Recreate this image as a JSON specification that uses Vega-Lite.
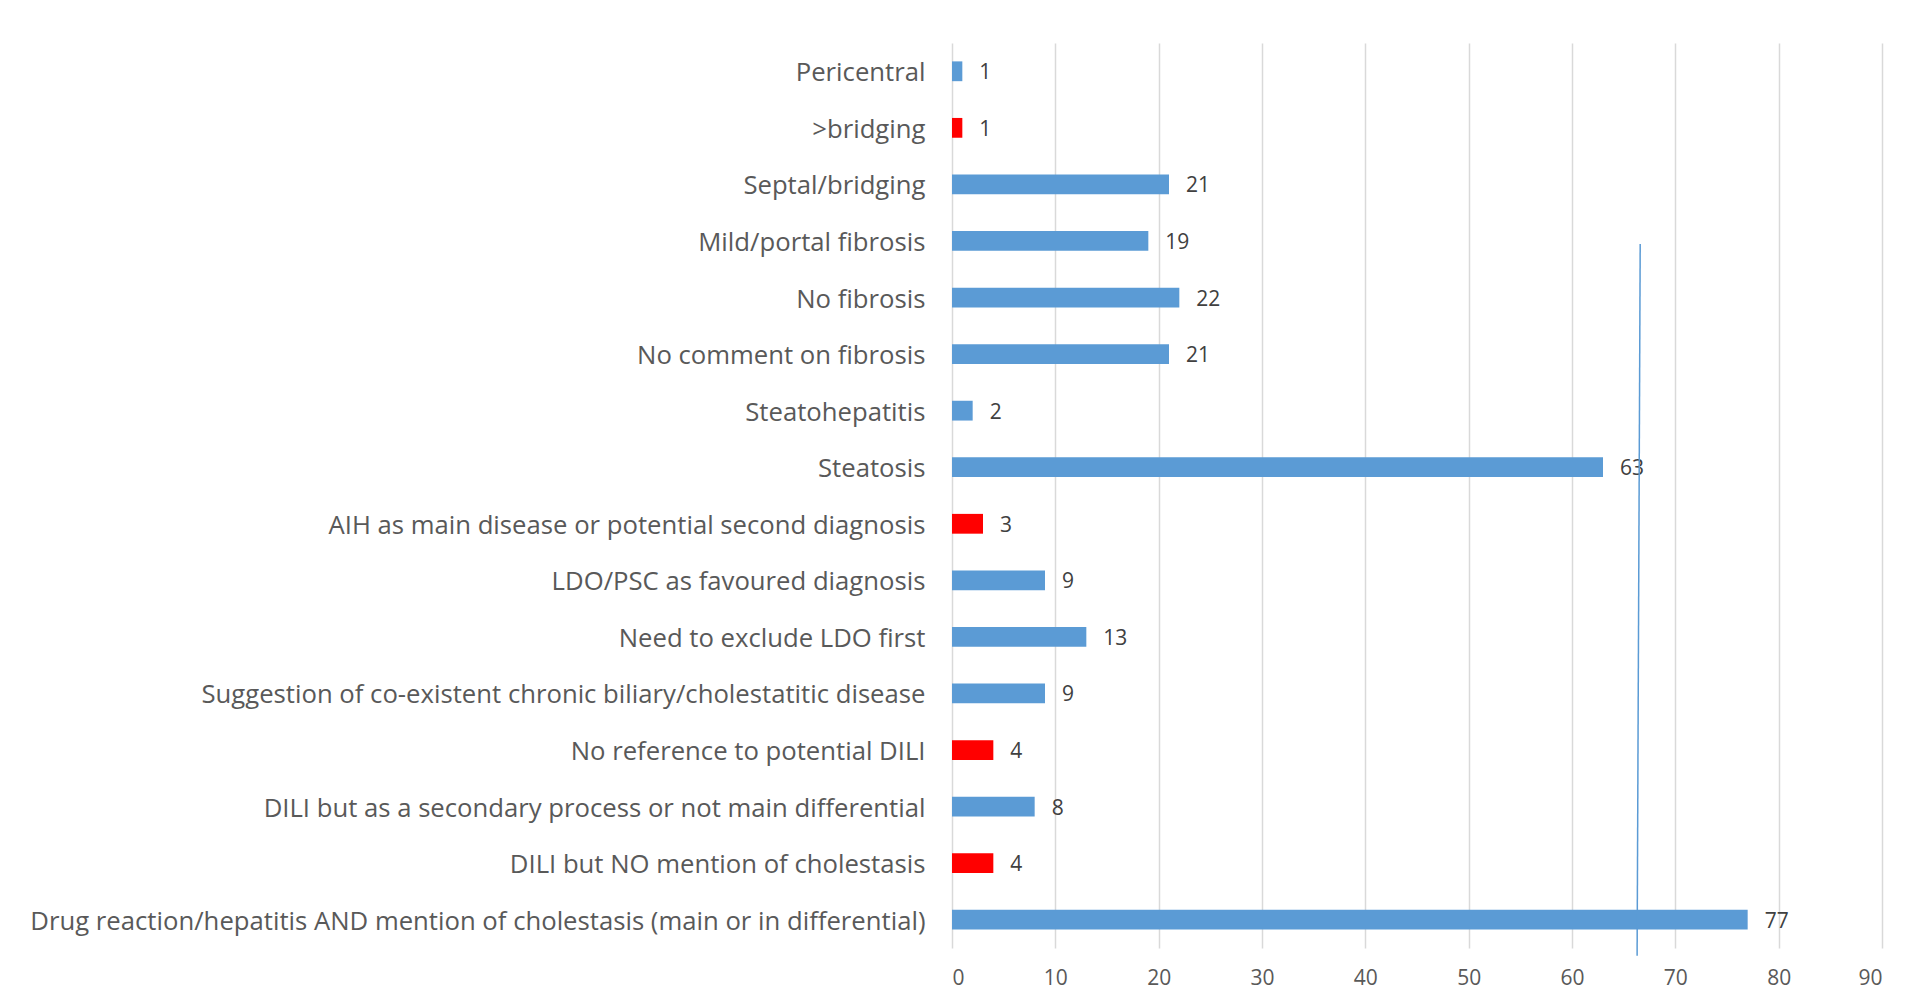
{
  "$schema": "https://vega.github.io/schema/vega-lite/v6.json",
  "width": 930,
  "height": 905,
  "autosize": {"type": "none"},
  "padding": {"left": 952, "top": 43, "right": 23, "bottom": 56},
  "background": "white",
  "config": {
    "view": {"stroke": null},
    "font": "Open Sans"
  },
  "datasets": {
    "bars": [
      {"category": "Pericentral", "count": 1, "flag": "normal"},
      {"category": ">bridging", "count": 1, "flag": "highlight"},
      {"category": "Septal/bridging", "count": 21, "flag": "normal"},
      {"category": "Mild/portal fibrosis", "count": 19, "flag": "normal"},
      {"category": "No fibrosis", "count": 22, "flag": "normal"},
      {"category": "No comment on fibrosis", "count": 21, "flag": "normal"},
      {"category": "Steatohepatitis", "count": 2, "flag": "normal"},
      {"category": "Steatosis", "count": 63, "flag": "normal"},
      {"category": "AIH as main disease or potential second diagnosis", "count": 3, "flag": "highlight"},
      {"category": "LDO/PSC as favoured diagnosis", "count": 9, "flag": "normal"},
      {"category": "Need to exclude LDO first", "count": 13, "flag": "normal"},
      {"category": "Suggestion of co-existent chronic biliary/cholestatitic disease", "count": 9, "flag": "normal"},
      {"category": "No reference to potential DILI", "count": 4, "flag": "highlight"},
      {"category": "DILI  but as a secondary process or not main differential", "count": 8, "flag": "normal"},
      {"category": "DILI but NO mention of cholestasis", "count": 4, "flag": "highlight"},
      {"category": "Drug reaction/hepatitis AND mention of cholestasis (main or in differential)", "count": 77, "flag": "normal"}
    ],
    "line": [
      {"xTop": 66.6, "xBottom": 66.3, "yTop": "Mild/portal fibrosis", "yBottom": "Drug reaction/hepatitis AND mention of cholestasis (main or in differential)"}
    ]
  },
  "layer": [
    {
      "data": {"name": "bars"},
      "mark": {"type": "bar"},
      "encoding": {
        "y": {
          "field": "category", "type": "nominal", "sort": null,
          "scale": {"paddingInner": 0.65, "paddingOuter": 0.325},
          "axis": {
            "title": null, "domain": false, "ticks": false, "grid": false,
            "labelFontSize": 25.7, "labelColor": "#595959", "labelPadding": 27,
            "labelOffset": 2,
            "labelLimit": 1200, "labelFont": "Open Sans"
          }
        },
        "x": {
          "field": "count", "type": "quantitative",
          "scale": {"domain": [0, 90], "nice": false},
          "axis": {
            "title": null, "domain": false, "ticks": false,
            "values": [0, 10, 20, 30, 40, 50, 60, 70, 80, 90],
            "grid": true, "gridColor": "#D9D9D9", "gridWidth": 1.5,
            "labelFontSize": 21, "labelColor": "#595959", "labelPadding": 19,
            "labelFont": "Open Sans"
          }
        },
        "color": {
          "field": "flag", "type": "nominal",
          "scale": {"domain": ["normal", "highlight"], "range": ["#5B9BD5", "#FF0000"]},
          "legend": null
        }
      }
    },
    {
      "data": {"name": "bars"},
      "mark": {"type": "text", "align": "left", "baseline": "middle", "dx": 17, "dy": 2, "fontSize": 21, "color": "#404040", "font": "Open Sans"},
      "encoding": {
        "y": {"field": "category", "type": "nominal", "sort": null},
        "x": {"field": "count", "type": "quantitative"},
        "text": {"field": "count", "type": "quantitative"}
      }
    },
    {
      "data": {"name": "line"},
      "mark": {"type": "rule", "color": "#5B9BD5", "strokeWidth": 1.5, "y2Offset": 36, "yOffset": 3, "clip": false},
      "encoding": {
        "x": {"field": "xTop", "type": "quantitative"},
        "x2": {"field": "xBottom"},
        "y": {"field": "yTop", "type": "nominal", "sort": null},
        "y2": {"field": "yBottom"}
      }
    }
  ]
}
